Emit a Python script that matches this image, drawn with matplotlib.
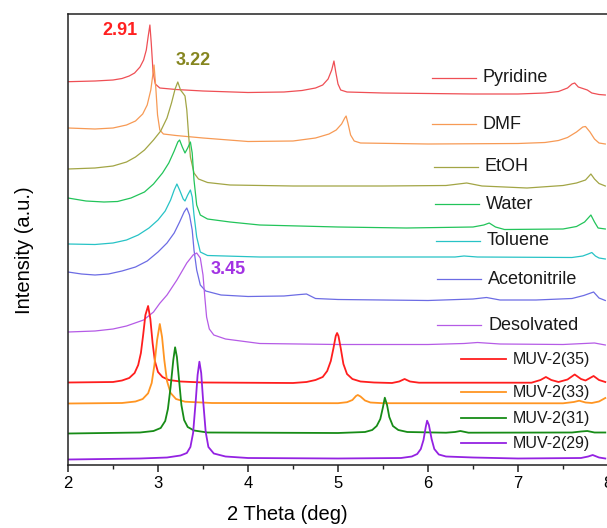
import numpy as np
import matplotlib
matplotlib.use("Agg")
import matplotlib.pyplot as plt

plt.rcParams['font.family'] = ['Liberation Sans', 'DejaVu Sans']

# 2 theta (deg) and stacked intensity (a.u.)
pyridine_x = [2.0, 2.3, 2.5, 2.6, 2.68, 2.74, 2.8, 2.84, 2.87, 2.89, 2.91, 2.925, 2.945, 2.97, 3.02,
              3.2, 3.5, 4.0, 4.4, 4.6, 4.75, 4.83, 4.89, 4.93, 4.955, 4.975, 5.0, 5.03, 5.1,
              5.5, 6.0, 6.5, 7.0, 7.3, 7.45, 7.55, 7.6, 7.63, 7.67, 7.72, 7.77, 7.82, 7.9, 7.97]
pyridine_y = [383.3, 384, 385, 386.5, 389, 392, 398, 405, 415, 428, 440, 422, 393, 381, 377,
              375.5, 374, 372.5, 373, 374.5, 377, 380, 386, 395, 404, 393, 381, 375, 373,
              372, 371.5, 371, 371, 372, 373.5, 377, 381, 382, 378, 376.5, 375, 372, 370.5, 370]

dmf_x = [2.0, 2.3, 2.5, 2.65, 2.75, 2.83, 2.88, 2.92, 2.945, 2.956, 2.975, 2.995, 3.02, 3.06, 3.2,
         3.5, 4.0, 4.5, 4.75, 4.9, 4.98, 5.04, 5.075, 5.09, 5.11, 5.14, 5.18, 5.25, 6.0,
         7.0, 7.3, 7.45, 7.55, 7.65, 7.72, 7.75, 7.8, 7.85, 7.9, 7.97]
dmf_y = [337, 336, 337, 340, 344, 351, 360, 375, 392, 400, 378, 350, 335, 331, 329.5,
         327, 323.5, 324, 327, 331, 335, 341, 347, 349, 342, 330, 324, 322, 321,
         321.5, 322.5, 324.5, 327.5, 333, 338, 338.5, 333, 326, 322, 321]

etoh_x = [2.0, 2.3, 2.5, 2.65, 2.75, 2.85, 2.95, 3.03, 3.1, 3.15, 3.19, 3.22, 3.25, 3.28, 3.3,
          3.32, 3.34, 3.36, 3.4, 3.45, 3.55, 3.8, 4.5, 5.5, 6.2, 6.43, 6.6, 7.1, 7.5,
          7.65, 7.75, 7.81, 7.85, 7.9, 7.97]
etoh_y = [296, 297, 299, 303, 308, 315, 325, 334, 347, 362, 376, 383, 375, 371.5, 369,
          355, 330, 308, 292, 286, 282.5, 280, 279, 279, 279.5, 282, 279, 277, 279.5,
          282, 285, 291, 286, 281.5, 279]

water_x = [2.0, 2.2, 2.4, 2.55, 2.7, 2.85, 2.95, 3.05, 3.12, 3.18, 3.22, 3.24, 3.27, 3.3, 3.33,
           3.36, 3.38, 3.4, 3.43, 3.47, 3.55, 3.8, 4.13, 5.0, 5.76, 6.5, 6.62, 6.68, 6.75,
           6.85, 7.5, 7.65, 7.74, 7.81, 7.85, 7.89, 7.97]
water_y = [267, 264, 263, 263.5, 267, 273, 281, 292, 302, 314, 323, 325, 318, 312, 317,
           323, 312, 285, 260, 250, 246, 243, 240, 238, 237, 238, 240, 242, 238,
           235.5, 236, 238.5, 243, 250, 243, 237, 236]

toluene_x = [2.0, 2.3, 2.5, 2.65, 2.78, 2.9, 3.0, 3.08, 3.14, 3.18, 3.21, 3.24, 3.28, 3.3, 3.33,
             3.36, 3.38, 3.4, 3.43, 3.47, 3.55, 4.13, 5.5, 6.3, 6.4, 6.55, 7.6, 7.72, 7.78,
             7.82, 7.86, 7.9, 7.97]
toluene_y = [221, 220.5, 222, 225, 230, 237, 245, 254, 265, 275, 281, 275, 266, 264, 270,
             275, 268, 250, 228, 213, 209.5, 208, 208, 208, 209, 208, 207.5, 209, 211,
             212.5, 209, 207, 206]

acn_x = [2.0, 2.15, 2.3, 2.45, 2.6, 2.75, 2.88, 3.0, 3.1, 3.18, 3.24, 3.29, 3.32, 3.35, 3.38,
         3.4, 3.43, 3.47, 3.53, 3.7, 4.0, 4.4, 4.58, 4.65, 4.75, 5.0, 6.0, 6.5, 6.65,
         6.8, 7.2, 7.6, 7.73, 7.84, 7.9, 7.97]
acn_y = [193, 191, 190, 191, 194, 198, 204, 213, 222, 232, 243, 253, 257, 250, 235,
         215, 195, 180, 174, 170, 168.5, 169, 170.5, 171, 166.5, 165.5, 164.5, 166, 167.5,
         165, 165, 166.5, 169.5, 173, 167, 164.5]

desolv_x = [2.0, 2.3, 2.5, 2.65, 2.84, 2.95, 3.02, 3.1, 3.21, 3.32, 3.39, 3.43, 3.47, 3.5, 3.52,
            3.54, 3.57, 3.62, 3.75, 4.13, 5.0, 6.0, 6.4, 6.55, 6.8, 7.5, 7.85, 7.97]
desolv_y = [133, 134, 136, 139, 145, 153, 161.7, 170, 185, 202, 210, 212, 207, 190, 168,
            148, 136, 130, 126, 121.5, 120.5, 120.5, 121.5, 122.5, 121, 120.5, 122, 120]

muv35_x = [2.0, 2.5, 2.6, 2.68, 2.74, 2.78, 2.81, 2.835, 2.86, 2.89, 2.915, 2.94, 2.965, 3.0, 3.05,
           3.12, 3.25, 3.5, 4.5, 4.65, 4.75, 4.83, 4.88, 4.92, 4.95, 4.975, 4.99, 5.005, 5.03,
           5.06, 5.1, 5.16, 5.25, 5.4, 5.6, 5.68, 5.74, 5.8, 5.9, 7.15, 7.25, 7.31, 7.37,
           7.45, 7.55, 7.63, 7.7, 7.75, 7.8, 7.84, 7.9, 7.97]
muv35_y = [82.5, 83, 84.5, 87, 92, 100, 112, 130, 150, 159, 146, 122, 104, 93, 88,
           85, 83.5, 82.5, 82, 83, 85, 88, 94, 104, 117, 129, 132, 129, 117,
           101, 91, 86, 83.5, 82.5, 82, 83.5, 86, 83.5, 82.3, 82.3, 85, 88, 85,
           83, 85.5, 90.5, 86, 84.5, 87, 89, 85, 83]

muv33_x = [2.0, 2.6, 2.75, 2.83, 2.89, 2.93, 2.96, 2.99, 3.02, 3.045, 3.07, 3.1, 3.14, 3.2, 3.3,
           3.6, 5.0, 5.1, 5.16, 5.2, 5.22, 5.25, 5.3, 5.36, 5.5, 7.5, 7.62, 7.68, 7.75,
           7.82, 7.9, 7.97]
muv33_y = [61.5, 62, 63.5, 66, 71.7, 82, 100, 125, 141, 128, 105, 84, 72, 66, 63.3,
           62, 61.8, 62.8, 65, 69, 70, 68.5, 64.5, 62.5, 61.8, 61.7, 63, 64.3, 62.5,
           62, 63.5, 67]

muv31_x = [2.0, 2.8, 2.95, 3.03, 3.08, 3.11, 3.14, 3.17, 3.19, 3.21, 3.235, 3.26, 3.29, 3.33, 3.4,
           3.55, 5.0, 5.3, 5.38, 5.43, 5.47, 5.5, 5.52, 5.545, 5.57, 5.61, 5.67, 5.77, 6.2,
           6.3, 6.36, 6.45, 7.6, 7.7, 7.77, 7.85, 7.97]
muv31_y = [31.5, 32.5, 34, 37, 44, 56, 78, 105, 117.7, 108, 84, 60, 45, 38, 34.5,
           32.5, 32, 33, 35, 39, 46, 58, 67.3, 60, 48, 39, 35, 33, 32.3,
           33, 34, 32.3, 32.5, 33.5, 34, 32.5, 32.5]

muv29_x = [2.0, 2.8, 3.1, 3.25, 3.32, 3.36, 3.39, 3.42, 3.44, 3.46, 3.48, 3.5, 3.53, 3.56, 3.62,
           3.75, 4.0, 5.0, 5.7, 5.82, 5.88, 5.92, 5.95, 5.975, 5.99, 6.01, 6.04, 6.07, 6.12,
           6.2, 6.5, 7.0, 7.7, 7.78, 7.83, 7.9, 7.97]
muv29_y = [5.5, 6.5, 7.5, 9.5, 12, 18, 32, 65, 90, 103.3, 92, 66, 33, 18, 11.5,
           8.5, 7, 6.5, 7, 8.5, 11, 16, 25, 38, 44.3, 40, 26, 16, 10.5,
           8.5, 7.5, 6.5, 7, 8.5, 10, 7.5, 6.5]

exp_names = ["Pyridine", "DMF", "EtOH", "Water", "Toluene", "Acetonitrile", "Desolvated"]
exp_colors = ["#ef4f55", "#f79a55", "#a2a545", "#22c45a", "#27c3c6", "#6c6ce4", "#b55be6"]
exp_data = [(pyridine_x, pyridine_y), (dmf_x, dmf_y), (etoh_x, etoh_y), (water_x, water_y),
            (toluene_x, toluene_y), (acn_x, acn_y), (desolv_x, desolv_y)]

sim_names = ["MUV-2(35)", "MUV-2(33)", "MUV-2(31)", "MUV-2(29)"]
sim_colors = ["#ff1e1e", "#ff9522", "#178c17", "#9422e2"]
sim_data = [(muv35_x, muv35_y), (muv33_x, muv33_y), (muv31_x, muv31_y), (muv29_x, muv29_y)]

peak_labels = ["2.91", "3.22", "3.45"]
peak_label_colors = ["#ff2020", "#85851f", "#a233e3"]

fig = plt.figure(figsize=(6.07, 5.28), dpi=100)
W, H = 607.0, 528.0
# axes spans px x 68..608, y 14..465 (right edge just at the image border)
ax = fig.add_axes([68 / W, (H - 465) / H, 540 / W, 451 / H])

for (x, y), c in zip(exp_data, exp_colors):
    ax.plot(x, y, color=c, lw=0.9, solid_joinstyle='round')
for (x, y), c in zip(sim_data, sim_colors):
    ax.plot(x, y, color=c, lw=1.3, solid_joinstyle='round')

ax.set_xlim(2, 8)
ax.set_ylim(0, 451)


# hand placed legend, as in the original figure
def px_to_axes(px, py):
    return (px - 68) / 540.0, (465 - py) / 451.0


exp_leg = [(432, 77.7), (432, 124.3), (433.7, 166.7), (435, 204.3),
           (436, 240.7), (437, 279), (437, 325)]
for (px, py), name, c in zip(exp_leg, exp_names, exp_colors):
    x0, yy = px_to_axes(px, py)
    x1, _ = px_to_axes(px + 44, py)
    xt, _ = px_to_axes(px + 51, py)
    ax.plot([x0, x1], [yy, yy], color=c, lw=0.9, transform=ax.transAxes, clip_on=False)
    ax.text(xt, yy, name, transform=ax.transAxes, fontsize=13, va='center', ha='left',
            color='#1a1a1a')

sim_leg = [(461.3, 359.3), (461.3, 392.3), (461.3, 418.3), (461.3, 443.3)]
for (px, py), name, c in zip(sim_leg, sim_names, sim_colors):
    x0, yy = px_to_axes(px, py)
    x1, _ = px_to_axes(px + 45, py)
    xt, _ = px_to_axes(px + 51.5, py)
    ax.plot([x0, x1], [yy, yy], color=c, lw=1.3, transform=ax.transAxes, clip_on=False)
    ax.text(xt, yy, name, transform=ax.transAxes, fontsize=11.5, va='center', ha='left',
            color='#1a1a1a')

label_pos = [(120, 30.7), (193, 60.7), (228.5, 270)]
for (px, py), t, c in zip(label_pos, peak_labels, peak_label_colors):
    xa, ya = px_to_axes(px, py)
    ax.text(xa, ya, t, transform=ax.transAxes, fontsize=13, fontweight='bold',
            color=c, ha='center', va='center')

ax.set_xticks([2, 3, 4, 5, 6, 7, 8])
ax.set_xticks(np.arange(2.5, 8, 1.0), minor=True)
ax.set_yticks([])
ax.tick_params(axis='x', which='major', direction='out', length=5, width=1.1,
               labelsize=12, pad=3, color='#222222')
ax.tick_params(axis='x', which='minor', direction='out', length=3, width=1.0, color='#222222')
for s in ax.spines.values():
    s.set_linewidth(1.1)
    s.set_color('#222222')

fig.text(287 / W, 1 - 515 / H, "2 Theta (deg)", fontsize=14.5, ha='center', va='center')
fig.text(25 / W, 1 - 250 / H, "Intensity (a.u.)", fontsize=14.5, ha='center', va='center',
         rotation=90)

fig.savefig("out.png", dpi=100)
